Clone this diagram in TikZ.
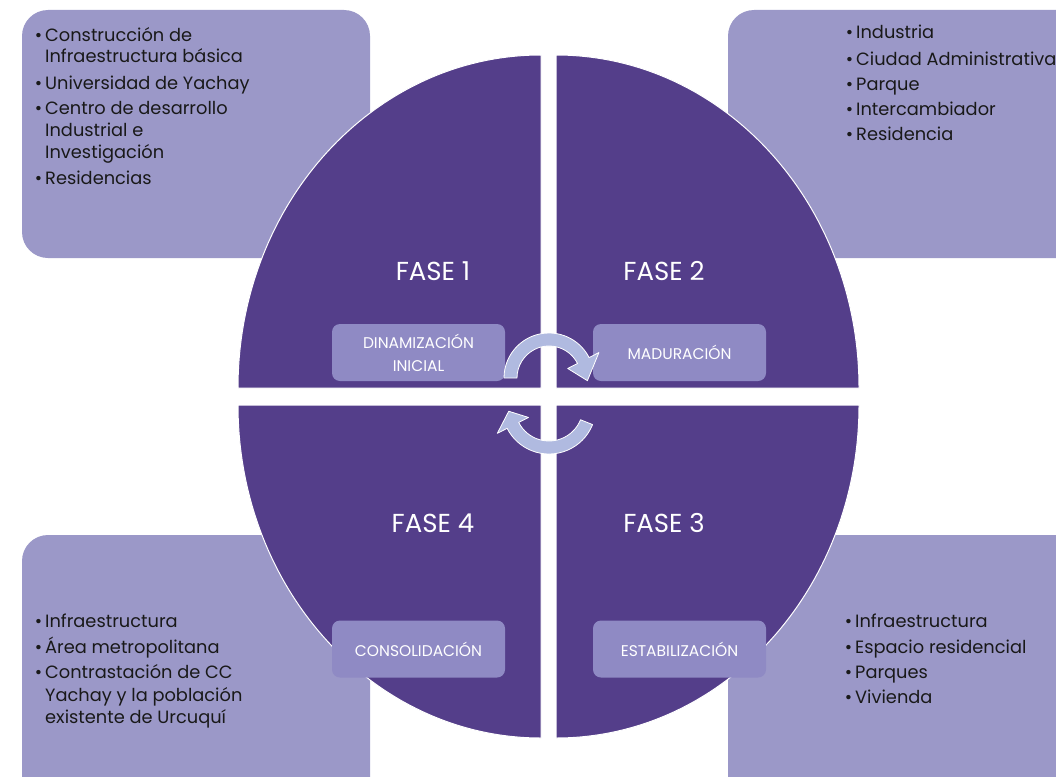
\documentclass[tikz,border=0pt]{standalone}
\usepackage{fontspec}
\setmainfont{Poppins}
\usetikzlibrary{calc}
\definecolor{darkq}{RGB}{84,62,138}
\definecolor{boxc}{RGB}{155,152,200}
\definecolor{labc}{RGB}{143,138,196}
\definecolor{arrc}{RGB}{176,186,224}
\newcommand{\bul}{\llap{\textbullet\hspace{3pt}}}
\begin{document}
\begin{tikzpicture}[x=1pt,y=-1pt,
  bigbox/.style={fill=boxc, rounded corners=26pt},
  quad/.style={fill=darkq, draw=white, line width=1pt},
  labbox/.style={fill=labc, rounded corners=8pt, text=white, align=center,
    minimum width=173pt, minimum height=57pt, inner sep=0pt,
    font=\fontsize{15.5}{23}\selectfont},
  fase/.style={anchor=base, text=white, inner sep=0pt, font=\fontsize{26}{30}\selectfont},
  txt/.style={anchor=base west, inner sep=0pt, text=black!90, font=\fontsize{17.8}{22}\selectfont},
  arrowst/.style={fill=arrc, draw=white, line width=0.8pt, line join=round}]
\useasboundingbox (0,0) rectangle (1056,776);
\clip (0,0) rectangle (1056,776);
% side boxes
\path[bigbox] (22,10) rectangle (370,258);
\path[bigbox] (728,10) rectangle (1100,258);
\path[bigbox] (22,535) rectangle (370,820);
\path[bigbox] (728,535) rectangle (1100,820);
% quadrants
\path[quad] (541,388) -- (238,388) arc[start angle=180, end angle=270, x radius=303, y radius=333] -- cycle;
\path[quad] (556,388) -- (556,55) arc[start angle=270, end angle=360, x radius=303, y radius=333] -- cycle;
\path[quad] (556,405) -- (859,405) arc[start angle=0, end angle=90, x radius=303, y radius=333] -- cycle;
\path[quad] (541,405) -- (541,738) arc[start angle=90, end angle=180, x radius=303, y radius=333] -- cycle;
% phase titles
\node[fase] (f1) at (433,280) {FASE 1};
\node[fase] (f2) at (664,280) {FASE 2};
\node[fase] (f4) at (433,532) {FASE 4};
\node[fase] (f3) at (664,532) {FASE 3};
% label boxes
\node[labbox] (l1) at (418.5,352.5) {DINAMIZACIÓN\\INICIAL};
\node[labbox] (l2) at (679.5,352.5) {MADURACIÓN};
\node[labbox] (l4) at (418.5,649) {CONSOLIDACIÓN};
\node[labbox] (l3) at (679.5,649) {ESTABILIZACIÓN};
% cycle arrows
\coordinate (c1) at (549,378);
\coordinate (c2) at (549,407);
\path[arrowst] ($(c1)+(180:45)$) arc[start angle=180, end angle=333, radius=45]
  -- ($(c1)+(333:56)$) -- ($(c1)+(364:38.5)$) -- ($(c1)+(333:21)$)
  -- ($(c1)+(333:32)$) arc[start angle=333, end angle=180, radius=32] -- cycle;
\path[arrowst] ($(c2)+(22:47)$) arc[start angle=22, end angle=153, radius=47]
  -- ($(c2)+(153:58)$) -- ($(c2)+(174:40.5)$) -- ($(c2)+(153:23)$)
  -- ($(c2)+(153:34)$) arc[start angle=153, end angle=22, radius=34] -- cycle;
% top-left list
\node[txt] (a1) at (45,41.5) {\bul Construcción de};
\node[txt] (a2) at (45,63) {Infraestructura básica};
\node[txt] (a3) at (45,89) {\bul Universidad de Yachay};
\node[txt] (a4) at (45,114) {\bul Centro de desarrollo};
\node[txt] (a5) at (45,136) {Industrial e};
\node[txt] (a6) at (45,158) {Investigación};
\node[txt] (a7) at (45,184) {\bul Residencias};
% top-right list
\node[txt] (b1) at (856,39) {\bul Industria};
\node[txt] (b2) at (856,65) {\bul Ciudad Administrativa};
\node[txt] (b3) at (856,90) {\bul Parque};
\node[txt] (b4) at (856,115) {\bul Intercambiador};
\node[txt] (b5) at (856,140) {\bul Residencia};
% bottom-left list
\node[txt] (d1) at (45,627) {\bul Infraestructura};
\node[txt] (d2) at (45,653) {\bul Área metropolitana};
\node[txt] (d3) at (45,678) {\bul Contrastación de CC};
\node[txt] (d4) at (45,701) {Yachay y la población};
\node[txt] (d5) at (45,723) {existente de Urcuquí};
% bottom-right list
\node[txt] (e1) at (855,627) {\bul Infraestructura};
\node[txt] (e2) at (855,653) {\bul Espacio residencial};
\node[txt] (e3) at (855,678) {\bul Parques};
\node[txt] (e4) at (855,703) {\bul Vivienda};
\end{tikzpicture}
\end{document}
